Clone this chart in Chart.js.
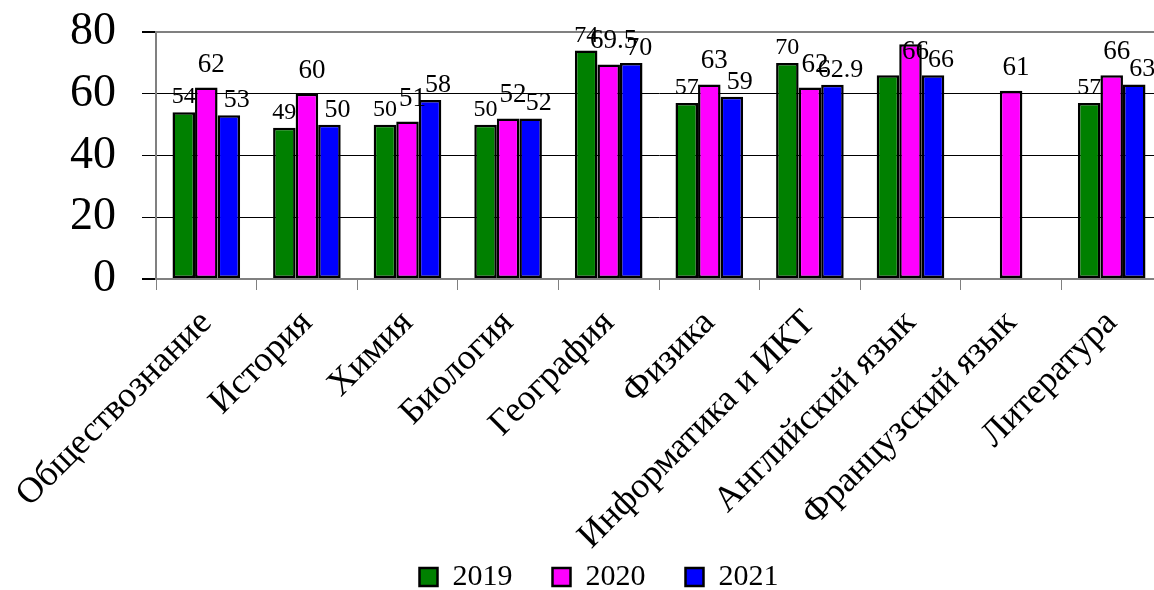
<!DOCTYPE html>
<html>
<head>
<meta charset="utf-8">
<script src="https://cdn.jsdelivr.net/npm/chart.js@4.4.1/dist/chart.umd.min.js"></script>
<style>
  html, body { margin: 0; padding: 0; background: #fff; overflow: hidden; }
  #wrap { width: 1162px; height: 590px; }
</style>
</head>
<body>
<div id="wrap"><canvas id="c"></canvas></div>
<script>
const categories = ['Обществознание', 'История', 'Химия', 'Биология', 'География',
  'Физика', 'Информатика и ИКТ', 'Английский язык', 'Французский язык', 'Литература'];
const years = ['2019', '2020', '2021'];

const values2019 = [54, 49, 50, 50, 74, 57, 70, 66, null, 57];
const values2020 = [62, 60, 51, 52, 69.5, 63, 62, 76, 61, 66];
const values2021 = [53, 50, 58, 52, 70, 59, 62.9, 66, null, 63];

// подписи как на исходной диаграмме (не везде совпадают с высотой столбика)
const labels2019 = [54, 49, 50, 50, 74, 57, 70, null, null, 57];
const labels2020 = [62, 60, 51, 52, 69.5, 63, 62, 66, 61, 66];
const labels2021 = [53, 50, 58, 52, 70, 59, 62.9, 66, null, 63];

const yTicks = [0, 20, 40, 60, 80];

const SERIF = '"Liberation Serif", "Times New Roman", serif';
const barLabels = [labels2019, labels2020, labels2021];
const labelStyle = [
  { size: 24, dx: 0, dy: 9 },
  { size: 27, dx: 5, dy: 16 },
  { size: 26, dx: 8, dy: 8 }
];

const valueLabels = {
  id: 'valueLabels',
  afterDatasetsDraw(chart) {
    const { ctx } = chart;
    const y = chart.scales.y;
    ctx.save();
    ctx.fillStyle = '#000';
    ctx.textAlign = 'center';
    ctx.textBaseline = 'alphabetic';
    barLabels.forEach((list, d) => {
      const st = labelStyle[d];
      ctx.font = `${st.size}px ${SERIF}`;
      chart.getDatasetMeta(d).data.forEach((bar, i) => {
        const v = list[i];
        if (v == null) return;
        ctx.fillText(String(v), bar.x + st.dx, y.getPixelForValue(v) - st.dy);
      });
    });
    ctx.restore();
  }
};

const gridColor = (c) => (c.tick.value === 0 || c.tick.value === 80) ? '#808080' : '#000';

new Chart(document.getElementById('c'), {
  type: 'bar',
  data: {
    labels: categories,
    datasets: [
      { label: years[0], data: values2019, backgroundColor: '#008000' },
      { label: years[1], data: values2020, backgroundColor: '#ff00ff' },
      { label: years[2], data: values2021, backgroundColor: '#0000ff' }
    ].map(ds => ({ ...ds, borderColor: '#000', borderWidth: 2.5, borderSkipped: false,
      categoryPercentage: 0.672, barPercentage: 1 }))
  },
  options: {
    responsive: true,
    maintainAspectRatio: false,
    animation: false,
    layout: { padding: { left: 36, right: 0, top: 32, bottom: -12 } },
    plugins: {
      legend: {
        position: 'bottom',
        labels: {
          color: '#000',
          font: { family: SERIF, size: 30 },
          boxWidth: 18,
          boxHeight: 18,
          padding: 40
        }
      },
      tooltip: { enabled: false }
    },
    scales: {
      x: {
        grid: { drawOnChartArea: false, tickLength: 11, tickColor: '#808080', offset: true },
        border: { color: '#808080', width: 2 },
        ticks: {
          autoSkip: false,
          maxRotation: 45,
          minRotation: 45,
          padding: 12,
          color: '#000',
          font: { family: SERIF, size: 36 }
        },
        afterFit: (s) => {
          s.height = 243;
          // подписи категорий заходят в область легенды, как в оригинале
          s._computeLabelArea = () => undefined;
        }
      },
      y: {
        min: 0,
        max: 80,
        afterBuildTicks: (s) => { s.ticks = yTicks.map(v => ({ value: v })); },
        grid: { color: gridColor, lineWidth: (c) => gridColor(c) === '#000' ? 1 : 2, tickLength: 14, tickColor: '#000' },
        border: { color: '#808080', width: 2 },
        ticks: {
          autoSkip: false,
          padding: 26,
          color: '#000',
          font: { family: SERIF, size: 46 }
        },
        afterFit: (s) => {
          s.width = 120;
          s.paddingTop = 0;
          s.paddingBottom = 0;
        }
      }
    }
  },
  plugins: [valueLabels]
});
</script>
</body>
</html>
